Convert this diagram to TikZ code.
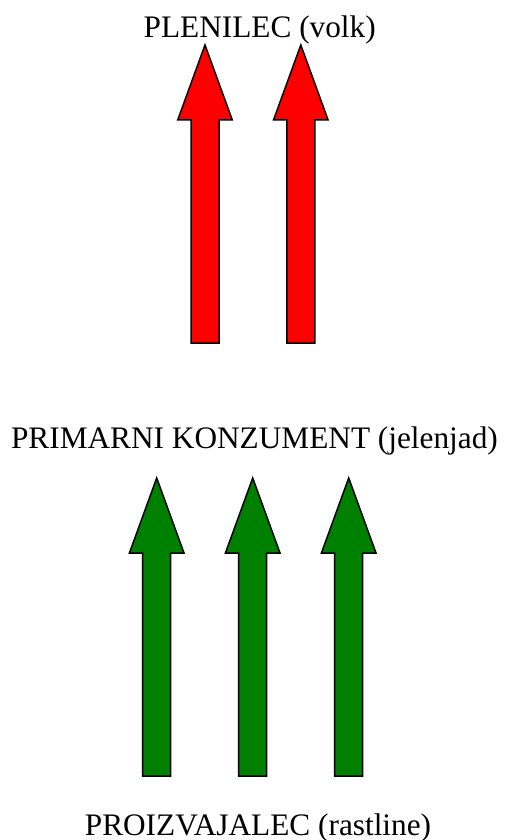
\documentclass[tikz,border=0pt]{standalone}
\usepackage{fontspec}
\setmainfont{Liberation Serif}
\definecolor{arrowred}{RGB}{255,0,0}
\definecolor{arrowgreen}{RGB}{0,128,0}
\begin{document}
\begin{tikzpicture}[x=1pt,y=-1pt,
  lbl/.style={font=\fontsize{31.3}{36}\selectfont, inner sep=0pt, anchor=base},
  redarrow/.style={fill=arrowred, draw=black, line width=1.5pt, line join=miter},
  greenarrow/.style={fill=arrowgreen, draw=black, line width=1.5pt, line join=miter}]
\useasboundingbox (0,0) rectangle (510,840);
\node[lbl] (top) at (259.7,38) {PLENILEC (volk)};
\node[lbl] (mid) at (254.5,448) {PRIMARNI KONZUMENT (jelenjad)};
\node[lbl] (bot) at (258,835) {PROIZVAJALEC (rastline)};
% red arrows: tip 45, head base 120, bottom 343
\foreach \c in {205,300.8}{
  \draw[redarrow] (\c-14,343) -- (\c-14,120) -- (\c-27.3,120) -- (\c,45)
    -- (\c+27.3,120) -- (\c+14,120) -- (\c+14,343) -- cycle;
}
% green arrows: tip 478, head base 553, bottom 776
\foreach \c in {156.7,252.7,348.7}{
  \draw[greenarrow] (\c-14,776) -- (\c-14,553) -- (\c-27.3,553) -- (\c,478)
    -- (\c+27.3,553) -- (\c+14,553) -- (\c+14,776) -- cycle;
}
\end{tikzpicture}
\end{document}
